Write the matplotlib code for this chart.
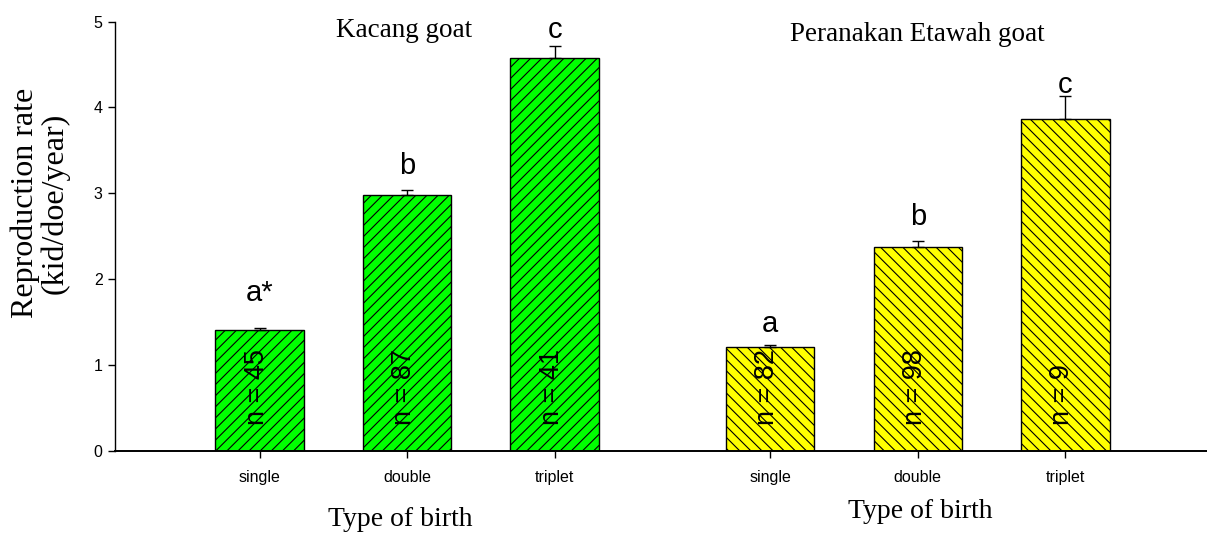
import numpy as np
import matplotlib
matplotlib.use('Agg')
import matplotlib.pyplot as plt
import matplotlib.transforms as mtransforms

# values
births = ['single', 'double', 'triplet']
kacang = [1.41, 2.98, 4.58]           # kid/doe/year
kacang_err = [0.02, 0.06, 0.13]
kacang_n = ['n = 45', 'n = 87', 'n = 41']
kacang_sig = ['a*', 'b', 'c']

etawah = [1.21, 2.38, 3.86]
etawah_err = [0.02, 0.065, 0.27]
etawah_n = ['n = 82', 'n = 98', 'n = 9']
etawah_sig = ['a', 'b', 'c']

# gap (px) between error cap and the letter's baseline, as in the original
kacang_gap = [27, 16, 8]
etawah_gap = [13, 16, 3]

plt.rcParams['font.family'] = 'Liberation Sans'
plt.rcParams['hatch.linewidth'] = 0.8

fig = plt.figure(figsize=(12.07, 5.34), dpi=100)
ax = fig.add_axes([0.0953, 0.1554, 0.9047, 0.8043])

x1 = np.arange(3)
x2 = np.arange(3) + 3.46
w = 0.6

ax.bar(x1, kacang, w, color='#00ff00', edgecolor='black', hatch='///', linewidth=1.0, zorder=2)
ax.bar(x2, etawah, w, color='#ffff00', edgecolor='black', hatch='\\\\\\', linewidth=1.0, zorder=2)

for xs, vals, errs in [(x1, kacang, kacang_err), (x2, etawah, etawah_err)]:
    ax.errorbar(xs, vals, yerr=[np.zeros(3), errs], fmt='none', ecolor='black',
                elinewidth=1.0, capsize=4, capthick=1.0, zorder=3)

# significance letters
for xs, vals, errs, sig, gap in [(x1, kacang, kacang_err, kacang_sig, kacang_gap),
                                 (x2, etawah, etawah_err, etawah_sig, etawah_gap)]:
    for xi, v, e, s, g in zip(xs, vals, errs, sig, gap):
        ax.annotate(s, (xi, v + e), xytext=(0, g * 0.72), textcoords='offset points',
                    ha='center', va='baseline', fontsize=21)

# n labels inside bars
for xs, labs in [(x1, kacang_n), (x2, etawah_n)]:
    for xi, lab in zip(xs, labs):
        ax.text(xi - 0.02, 0.3, lab, rotation=90, ha='center', va='bottom',
                fontsize=19.5, zorder=4)

ax.text(x1[1] - 0.02, 4.9, 'Kacang goat', ha='center', va='center',
        fontsize=19.5, family='Liberation Serif')
ax.text(x2[1], 4.85, 'Peranakan Etawah goat', ha='center', va='center',
        fontsize=19.5, family='Liberation Serif')

ax.set_ylim(0, 5)
ax.set_xlim(-0.98, 6.42)
ax.set_yticks(range(6))
ax.set_xticks(np.concatenate([x1, x2]))
ax.set_xticklabels(births + births)
ax.tick_params(axis='x', length=5, width=1, pad=9, labelsize=11.5)
ax.tick_params(axis='y', length=5, width=1, pad=4, labelsize=11.5)
ax.spines['top'].set_visible(False)
ax.spines['right'].set_visible(False)
ax.spines['left'].set_linewidth(1.0)
ax.spines['bottom'].set_linewidth(1.4)

fig.text(40 / 1207, 1 - 203 / 534, 'Reproduction rate\n(kid/doe/year)', rotation=90,
         ha='center', va='center', family='Liberation Serif', fontsize=23,
         linespacing=1.0)

trans = mtransforms.blended_transform_factory(ax.transData, fig.transFigure)
ax.text(x1[1] - 0.05, 1 - 519 / 534, 'Type of birth', transform=trans, ha='center',
        va='center', fontsize=20, family='Liberation Serif')
ax.text(x2[1] + 0.02, 1 - 512 / 534, 'Type of birth', transform=trans, ha='center',
        va='center', fontsize=20, family='Liberation Serif')

plt.savefig('out.png', dpi=100)
